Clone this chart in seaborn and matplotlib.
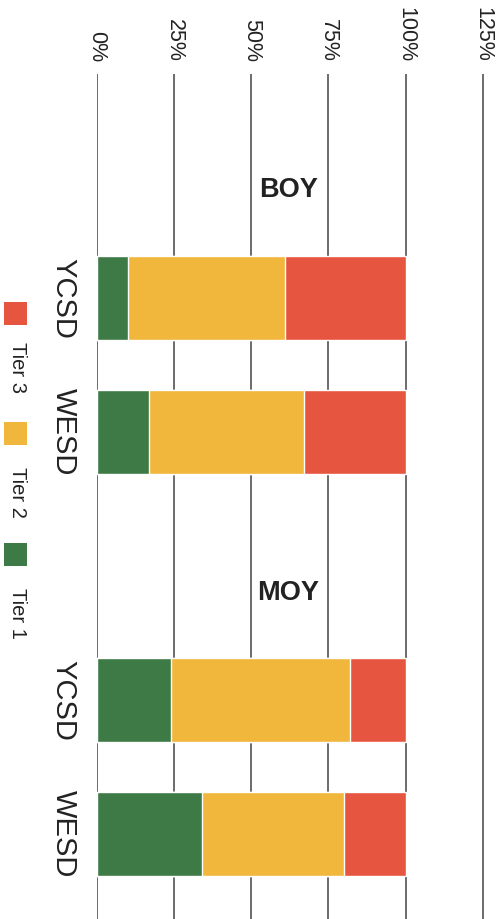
import matplotlib
matplotlib.use("Agg")
import matplotlib.pyplot as plt
import seaborn as sns
import pandas as pd
from matplotlib.patches import Rectangle

# ---- data ----
keys = ["BOY-YCSD", "BOY-WESD", "MOY-YCSD", "MOY-WESD"]
order = ["BOY-YCSD", "BOY-WESD", "_gap_", "MOY-YCSD", "MOY-WESD"]
districts = ["YCSD", "WESD", "YCSD", "WESD"]
tier1 = [10, 17, 24, 34]
tier2 = [51, 50, 58, 46]
tier3 = [39, 33, 18, 20]
groups = ["BOY", "MOY"]
tick_vals = [0, 25, 50, 75, 100, 125]
tick_labels = ["0%", "25%", "50%", "75%", "100%", "125%"]
legend_names = ["Tier 3", "Tier 2", "Tier 1"]

c_green = "#3e7a46"
c_yellow = "#f0b73c"
c_red = "#e5553f"

sns.set_theme(style="white")
plt.rcParams["font.family"] = ["Liberation Sans", "DejaVu Sans"]
narrow = ["Liberation Sans", "DejaVu Sans"]

df = pd.DataFrame({"key": keys, "t1": tier1, "t2": tier2, "t3": tier3})
df["c1"] = df["t1"]
df["c2"] = df["t1"] + df["t2"]
df["c3"] = df["t1"] + df["t2"] + df["t3"]

W, H = 504, 919
fig = plt.figure(figsize=(W / 100, H / 100), dpi=100)
ax = fig.add_axes([97 / W, 0, (484 - 97) / W, 1 - 74 / H])

ax.grid(axis="x", color="#6b6b6b", lw=1.4)
ax.set_axisbelow(True)

for col, c in [("c3", c_red), ("c2", c_yellow), ("c1", c_green)]:
    sns.barplot(data=df, x=col, y="key", order=order, color=c, width=0.63,
                orient="h", errorbar=None, saturation=1, ax=ax, zorder=2)

ax.set_xlim(0, 125.4)
ax.set_ylim(4.634, -1.672)
for s in ax.spines.values():
    s.set_visible(False)

ax.set_xticks(tick_vals)
ax.set_xticklabels(tick_labels, rotation=-90, fontsize=15.5, family=narrow,
                   color="#222222", ha="center", va="bottom")
ax.xaxis.tick_top()
ax.tick_params(axis="x", length=0, pad=8.5)

ax.set_yticks([0, 1, 3, 4])
ax.set_yticklabels(districts, rotation=-90, fontsize=21, family=narrow,
                   color="#222222", ha="right", va="center")
ax.tick_params(axis="y", length=0, pad=14)
ax.set_xlabel("")
ax.set_ylabel("")

for g, yp in zip(groups, [-0.81, 2.2]):
    ax.text(62, yp, g, ha="center", va="center", fontsize=19.5,
            fontweight="bold", color="#222222", zorder=3)

# legend (rotated, drawn manually)
leg_colors = [c_red, c_yellow, c_green]
sq_top = [302, 422, 543]
txt_top = [342, 467, 588]
for name, c, st, tt in zip(legend_names, leg_colors, sq_top, txt_top):
    fig.add_artist(Rectangle((4 / W, 1 - (st + 23) / H), 23 / W, 23 / H,
                             transform=fig.transFigure, color=c, lw=0))
    fig.text(17 / W, 1 - tt / H, name, rotation=-90, ha="center", va="top",
             fontsize=14.5, family=narrow, color="#222222")

fig.savefig("out.png", dpi=100, facecolor="white")
